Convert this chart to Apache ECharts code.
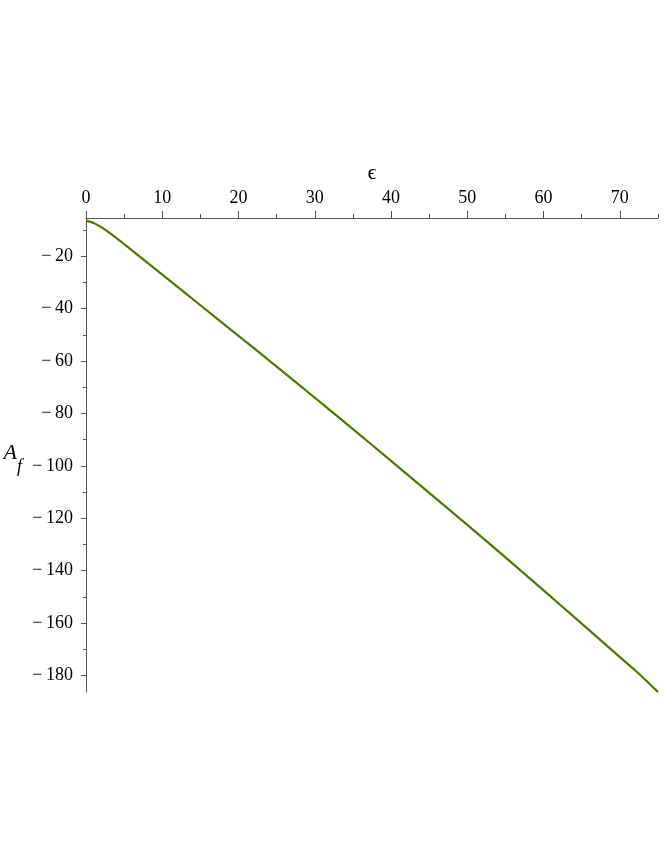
<!DOCTYPE html>
<html>
<head>
<meta charset="utf-8">
<script src="https://cdn.jsdelivr.net/npm/echarts@6/dist/echarts.min.js"></script>
<style>
  html, body { margin: 0; padding: 0; background: #fff; }
  #main { width: 664px; height: 860px; }
</style>
</head>
<body>
<div id="main"></div>
<script>
// curve: epsilon -> A_f
var epsValues = [0, 1, 2, 3, 4, 5, 10, 15, 20, 25, 30, 35, 40, 45, 50, 55, 60, 65, 70, 72, 75];
var afValues = [-6.4, -7.3, -8.9, -10.9, -13.1, -15.4, -27.0, -38.7, -50.4, -62.1, -74.0, -86.0, -98.1, -110.3, -122.5, -134.9, -147.5, -160.2, -173.0, -178.0, -186.3];

// tick labels
var xMajor = [0, 10, 20, 30, 40, 50, 60, 70];
var xMinor = [5, 15, 25, 35, 45, 55, 65, 75];
var yMajor = [-20, -40, -60, -80, -100, -120, -140, -160, -180];
var yMinor = [-10, -30, -50, -70, -90, -110, -130, -150, -170];

var xMin = 0, xMax = 75;
var yMin = -186.3, yMax = -5.4;

var axisColor = "#555";
var font = "Liberation Serif";

var data = [];
for (var i = 0; i < epsValues.length; i++) {
  data.push([epsValues[i], afValues[i]]);
}

// maple style minus sign with a small gap
function minusFmt(v) {
  return v < 0 ? "\u2212\u2009" + Math.abs(v) : String(v);
}

var myChart = echarts.init(document.getElementById("main"));
var option = {
  animation: false,
  backgroundColor: "#fff",
  grid: { left: 86, right: 6, top: 218, bottom: 168, containLabel: false },
  xAxis: [
    {
      type: "value",
      position: "top",
      min: xMin,
      max: xMax,
      name: "\u03f5",
      nameLocation: "middle",
      nameGap: 26,
      nameTextStyle: { fontFamily: font, fontSize: 22, color: "#000" },
      axisLine: { show: true, onZero: false, lineStyle: { color: axisColor, width: 1 } },
      axisTick: { show: true, length: 7, customValues: xMajor, lineStyle: { color: axisColor } },
      axisLabel: { customValues: xMajor, margin: 11, fontFamily: font, fontSize: 18, color: "#000" },
      splitLine: { show: false }
    },
    {
      type: "value",
      position: "top",
      min: xMin,
      max: xMax,
      axisLine: { show: false, onZero: false },
      axisTick: { show: true, length: 4, customValues: xMinor, lineStyle: { color: axisColor } },
      axisLabel: { show: false },
      splitLine: { show: false }
    }
  ],
  yAxis: [
    {
      type: "value",
      min: yMin,
      max: yMax,
      name: "{a|A}{f|f}",
      nameLocation: "middle",
      nameRotate: 0,
      nameGap: 64,
      nameTextStyle: {
        padding: [8, 0, 0, 0],
        rich: {
          a: { fontFamily: font, fontStyle: "italic", fontSize: 22, color: "#000", verticalAlign: "top" },
          f: { fontFamily: font, fontStyle: "italic", fontSize: 18, color: "#000", padding: [16, 0, 0, 0] }
        }
      },
      axisLine: { show: true, onZero: false, lineStyle: { color: axisColor, width: 1 } },
      axisTick: { show: true, length: 5, customValues: yMajor, lineStyle: { color: axisColor } },
      axisLabel: { customValues: yMajor, margin: 13, fontFamily: font, fontSize: 18, color: "#000", formatter: minusFmt },
      splitLine: { show: false }
    },
    {
      type: "value",
      position: "left",
      min: yMin,
      max: yMax,
      axisLine: { show: false, onZero: false },
      axisTick: { show: true, length: 3, customValues: yMinor, lineStyle: { color: axisColor } },
      axisLabel: { show: false },
      splitLine: { show: false }
    }
  ],
  series: [
    {
      type: "line",
      xAxisIndex: 0,
      yAxisIndex: 0,
      data: data,
      smooth: 0.3,
      showSymbol: false,
      lineStyle: { color: "#4b7b05", width: 2.2 },
      clip: true
    }
  ]
};
myChart.setOption(option);
</script>
</body>
</html>
